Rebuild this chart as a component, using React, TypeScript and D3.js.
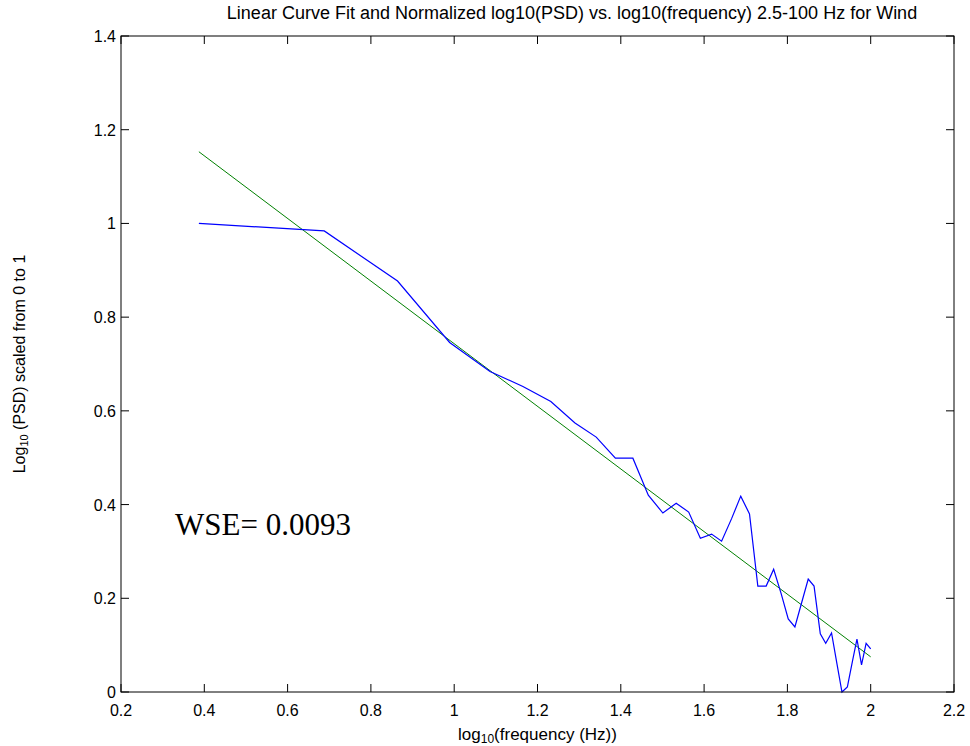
import React from "react";
import * as d3 from "d3";

const logFreq = [0.387, 0.688, 0.864, 0.989, 1.086, 1.165, 1.232, 1.29, 1.341, 1.387, 1.429, 1.466, 1.501, 1.533, 1.563, 1.591, 1.618, 1.642, 1.666, 1.688, 1.709, 1.729, 1.749, 1.767, 1.785, 1.802, 1.818, 1.834, 1.85, 1.864, 1.879, 1.892, 1.906, 1.919, 1.931, 1.944, 1.956, 1.967, 1.978, 1.989, 2.0];
const psdNorm = [1.0, 0.984, 0.877, 0.746, 0.684, 0.652, 0.62, 0.574, 0.544, 0.499, 0.499, 0.42, 0.382, 0.403, 0.384, 0.328, 0.337, 0.322, 0.37, 0.418, 0.38, 0.226, 0.226, 0.262, 0.21, 0.156, 0.139, 0.19, 0.241, 0.226, 0.124, 0.104, 0.126, 0.06, 0.0, 0.011, 0.065, 0.113, 0.058, 0.104, 0.092];
const fitX = [0.387, 2.0];
const fitY = [1.153, 0.075];
const xTicks = [0.2, 0.4, 0.6, 0.8, 1.0, 1.2, 1.4, 1.6, 1.8, 2.0, 2.2];
const yTicks = [0, 0.2, 0.4, 0.6, 0.8, 1.0, 1.2, 1.4];
const titleText = "Linear Curve Fit and Normalized log10(PSD) vs. log10(frequency) 2.5-100 Hz for Wind";
const annotation = "WSE= 0.0093";

const W = 970, H = 746;
const L = 121, R = 954, T = 36, B = 692;

export default function App() {
  const x = d3.scaleLinear().domain([0.2, 2.2]).range([L, R]);
  const y = d3.scaleLinear().domain([0, 1.4]).range([B, T]);
  const line = d3.line<[number, number]>().x(d => x(d[0])).y(d => y(d[1]));
  const blue = line(logFreq.map((v, i) => [v, psdNorm[i]] as [number, number])) || "";
  const green = line(fitX.map((v, i) => [v, fitY[i]] as [number, number])) || "";
  const tl = 8;
  const font = "'Liberation Sans', Arial, Helvetica, sans-serif";
  const fmt = (v: number) => d3.format("~g")(+v.toFixed(2));
  return (
    <svg width={W} height={H} style={{ position: "absolute", left: 0, top: 0, background: "#fff" }} fontFamily={font}>
      <rect x={0} y={0} width={W} height={H} fill="#fff" />
      <path d={green} fill="none" stroke="#008000" strokeWidth={1} />
      <path d={blue} fill="none" stroke="#0000ff" strokeWidth={1.2} />
      <rect x={L} y={T} width={R - L} height={B - T} fill="none" stroke="#000" strokeWidth={1} />
      {xTicks.map(t => (
        <g key={"x" + t}>
          <line x1={x(t)} x2={x(t)} y1={B} y2={B - tl} stroke="#000" />
          <line x1={x(t)} x2={x(t)} y1={T} y2={T + tl} stroke="#000" />
          <text x={x(t)} y={B + 24} fontSize={16} textAnchor="middle">{fmt(t)}</text>
        </g>
      ))}
      {yTicks.map(t => (
        <g key={"y" + t}>
          <line x1={L} x2={L + tl} y1={y(t)} y2={y(t)} stroke="#000" />
          <line x1={R} x2={R - tl} y1={y(t)} y2={y(t)} stroke="#000" />
          <text x={L - 5} y={y(t) + 6} fontSize={16} textAnchor="end">{fmt(t)}</text>
        </g>
      ))}
      <text x={572} y={19} fontSize={18} textAnchor="middle">{titleText}</text>
      <text x={(L + R) / 2} y={740} fontSize={17} textAnchor="middle">
        log<tspan fontSize={12} dy={3}>10</tspan><tspan dy={-3}>(frequency (Hz))</tspan>
      </text>
      <text transform={`translate(25, ${(T + B) / 2}) rotate(-90)`} fontSize={16} textAnchor="middle">
        Log<tspan fontSize={11} dy={3}>10</tspan><tspan dy={-3}> (PSD) scaled from 0 to 1</tspan>
      </text>
      <text x={175} y={535} fontSize={31} fontFamily="'Liberation Serif', 'Times New Roman', serif">{annotation}</text>
    </svg>
  );
}
